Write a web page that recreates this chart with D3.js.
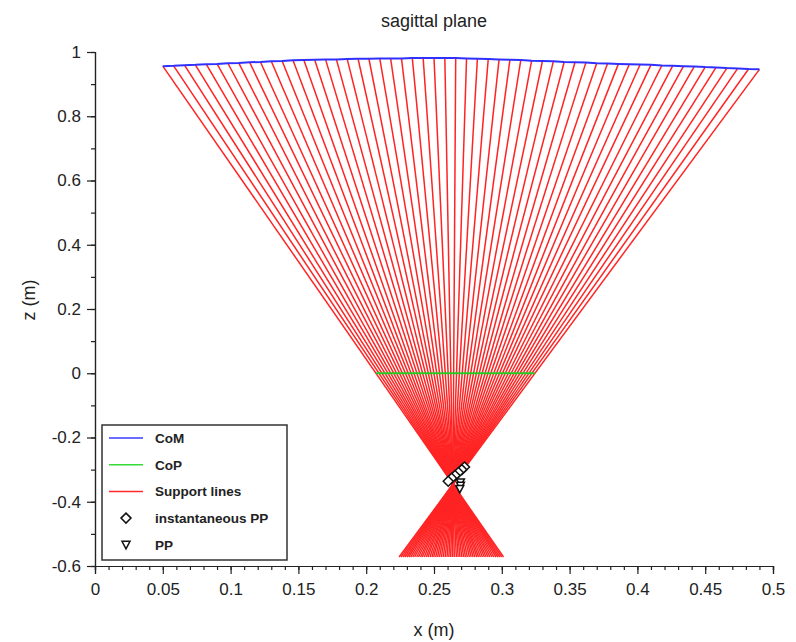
<!DOCTYPE html>
<html><head><meta charset="utf-8">
<script src="https://cdn.jsdelivr.net/npm/d3@7"></script>
<style>
body{margin:0;background:#fff}
svg{display:block}
text{font-family:"Liberation Sans",Arial,Helvetica,sans-serif;fill:#222}
</style>
</head><body>
<svg id="chart" width="796" height="642"></svg>
<script>
// ---- data ----
const comX = [0.050,0.058,0.066,0.074,0.082,0.090,0.098,0.106,0.114,0.122,
              0.130,0.138,0.146,0.154,0.162,0.170,0.178,0.186,0.194,0.202,
              0.210,0.218,0.226,0.234,0.242,0.250,0.258,0.266,0.274,0.282,
              0.290,0.298,0.306,0.314,0.322,0.330,0.338,0.346,0.354,0.362,
              0.370,0.378,0.386,0.394,0.402,0.410,0.418,0.426,0.434,0.442,
              0.450,0.458,0.466,0.474,0.482,0.490];
const comZ = [0.956,0.957,0.959,0.960,0.962,0.963,0.965,0.966,0.968,0.969,
              0.971,0.972,0.974,0.975,0.976,0.977,0.977,0.978,0.979,0.979,
              0.980,0.980,0.980,0.981,0.981,0.981,0.981,0.981,0.980,0.979,
              0.978,0.977,0.976,0.975,0.973,0.972,0.971,0.969,0.968,0.967,
              0.965,0.964,0.963,0.962,0.961,0.960,0.958,0.957,0.956,0.955,
              0.953,0.952,0.950,0.949,0.947,0.946];
const copX = [0.2072,0.2094,0.2116,0.2138,0.2160,0.2181,0.2203,0.2224,0.2246,0.2267,
              0.2289,0.2310,0.2331,0.2352,0.2374,0.2395,0.2416,0.2437,0.2458,0.2478,
              0.2499,0.2520,0.2541,0.2562,0.2583,0.2604,0.2624,0.2645,0.2666,0.2687,
              0.2708,0.2729,0.2750,0.2771,0.2792,0.2813,0.2834,0.2855,0.2877,0.2898,
              0.2919,0.2941,0.2962,0.2983,0.3005,0.3026,0.3048,0.3069,0.3091,0.3112,
              0.3134,0.3156,0.3178,0.3200,0.3222,0.3244];
const copZ = 0;
const supportEndZ = -0.572;
const ippX = [0.2725,0.2705,0.2680,0.2655,0.2630,0.2605];
const ippZ = [-0.292,-0.300,-0.309,-0.318,-0.327,-0.336];
const ppX = [0.2695,0.2695,0.2690];
const ppZ = [-0.340,-0.350,-0.360];

const xTickValues = [0,0.05,0.1,0.15,0.2,0.25,0.3,0.35,0.4,0.45,0.5];
const xTickLabels = ["0","0.05","0.1","0.15","0.2","0.25","0.3","0.35","0.4","0.45","0.5"];
const yTickValues = [-0.6,-0.4,-0.2,0,0.2,0.4,0.6,0.8,1];
const yTickLabels = ["-0.6","-0.4","-0.2","0","0.2","0.4","0.6","0.8","1"];
const xMinor = d3.range(0,51).map(d=>d/100);
const yMinor = d3.range(-6,11).map(d=>d/10);

const legendNames = ["CoM","CoP","Support lines","instantaneous PP","PP"];
const legendKinds = ["line","line","line","diamond","triangle"];
const legendColors = ["#3a3aff","#33dd33","#ff2a2a","#111","#111"];

// ---- chart ----
const svg = d3.select("#chart");
const x = d3.scaleLinear().domain([0,0.5]).range([95,773]);
const y = d3.scaleLinear().domain([-0.6,1]).range([566,52]);

// support lines
const sup = svg.append("g");
comX.forEach((cx,i)=>{
  const cz = comZ[i];
  const t = (supportEndZ - cz)/(copZ - cz);
  const ex = cx + (copX[i]-cx)*t;
  sup.append("line")
    .attr("x1",x(cx)).attr("y1",y(cz))
    .attr("x2",x(ex)).attr("y2",y(supportEndZ))
    .attr("stroke","#ff2424").attr("stroke-width",1.5);
});

// CoM
svg.append("path")
  .attr("d", d3.line().x((d,i)=>x(comX[i])).y((d,i)=>y(comZ[i]))(comX))
  .attr("fill","none").attr("stroke","#3030ff").attr("stroke-width",2);

// CoP
svg.append("path")
  .attr("d", d3.line().x(d=>x(d)).y(()=>y(copZ))(copX))
  .attr("fill","none").attr("stroke","#22cc22").attr("stroke-width",2);

const diamondPath = "M0,-5L5,0L0,5L-5,0Z";
const triPath = "M-4,-3.5L4,-3.5L0,4Z";

svg.append("g").selectAll("path").data(ippX).join("path")
  .attr("transform",(d,i)=>`translate(${x(d)},${y(ippZ[i])})`)
  .attr("d",diamondPath).attr("fill","#fff").attr("stroke","#111").attr("stroke-width",1.5);
svg.append("g").selectAll("path").data(ppX).join("path")
  .attr("transform",(d,i)=>`translate(${x(d)},${y(ppZ[i])})`)
  .attr("d",triPath).attr("fill","#fff").attr("stroke","#111").attr("stroke-width",1.5);

// axes
function styleAxis(g){
  g.select(".domain").attr("stroke","#222").attr("stroke-width",1.2);
  g.selectAll(".tick line").attr("stroke","#222").attr("stroke-width",1.2);
  g.selectAll(".tick text").style("font-size","17px").attr("fill","#222");
}
const xMinorAxis = d3.axisBottom(x).tickValues(xMinor).tickSize(4).tickFormat("");
svg.append("g").attr("transform","translate(0,566)").call(xMinorAxis).call(styleAxis);
const xAxis = d3.axisBottom(x).tickValues(xTickValues).tickSize(8).tickPadding(9)
  .tickFormat((d,i)=>xTickLabels[i]);
svg.append("g").attr("transform","translate(0,566)").call(xAxis).call(styleAxis);

const yMinorAxis = d3.axisLeft(y).tickValues(yMinor).tickSize(4).tickFormat("");
svg.append("g").attr("transform","translate(95,0)").call(yMinorAxis).call(styleAxis);
const yAxis = d3.axisLeft(y).tickValues(yTickValues).tickSize(8).tickPadding(6)
  .tickFormat((d,i)=>yTickLabels[i]);
svg.append("g").attr("transform","translate(95,0)").call(yAxis).call(styleAxis);

// titles
svg.append("text").attr("x",434).attr("y",27).attr("text-anchor","middle")
  .style("font-size","18px").text("sagittal plane");
svg.append("text").attr("x",434).attr("y",636).attr("text-anchor","middle")
  .style("font-size","18px").text("x (m)");
svg.append("text").attr("transform","translate(35,300) rotate(-90)").attr("text-anchor","middle")
  .style("font-size","18px").text("z (m)");

// legend
const lg = svg.append("g");
lg.append("rect").attr("x",102).attr("y",425).attr("width",185).attr("height",135)
  .attr("fill","#fff").attr("stroke","#333").attr("stroke-width",1.5);
legendNames.forEach((name,i)=>{
  const cy = 438 + i*26.7;
  if(legendKinds[i]==="line"){
    lg.append("line").attr("x1",109).attr("x2",143).attr("y1",cy).attr("y2",cy)
      .attr("stroke",legendColors[i]).attr("stroke-width",1.5);
  } else {
    lg.append("path").attr("transform",`translate(126,${cy})`)
      .attr("d", legendKinds[i]==="diamond" ? diamondPath : triPath)
      .attr("fill","none").attr("stroke","#111").attr("stroke-width",1.5);
  }
  lg.append("text").attr("x",155).attr("y",cy+5).style("font-size","13.5px")
    .style("font-weight","bold").attr("fill","#333").text(name);
});
</script>
</body></html>
